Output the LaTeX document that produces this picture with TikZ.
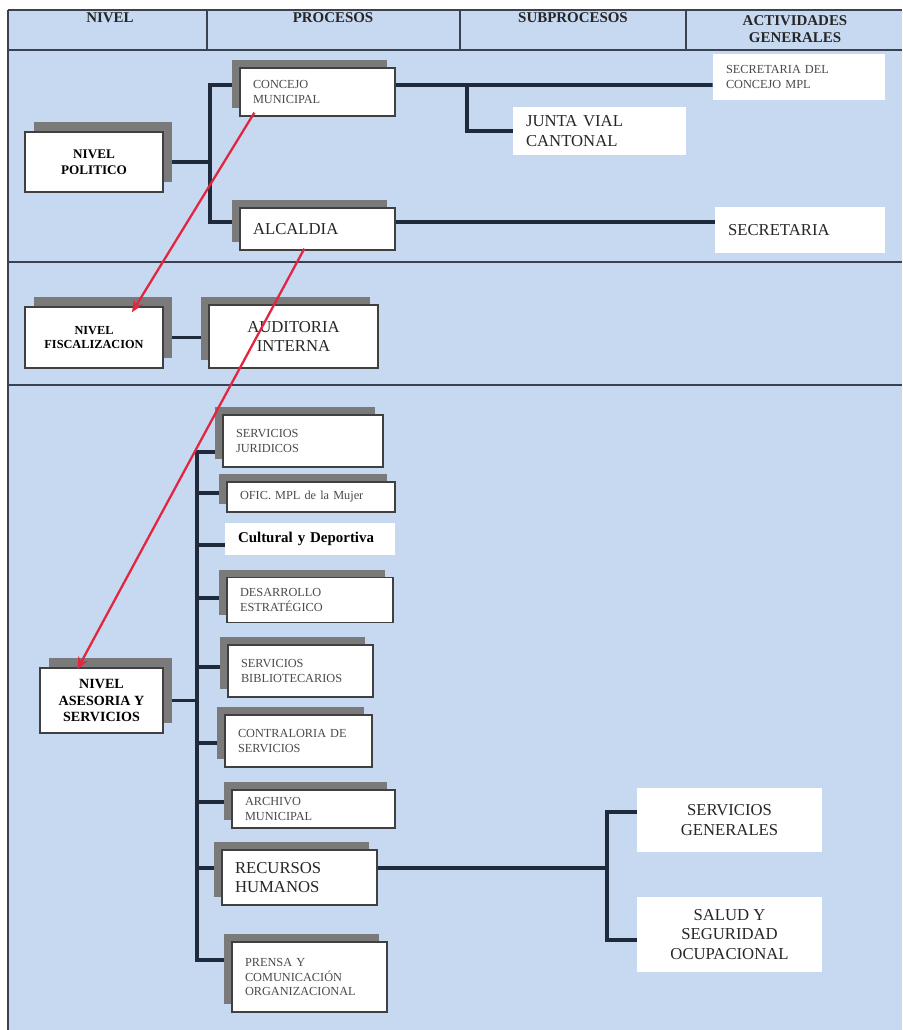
\documentclass[tikz,border=0pt]{standalone}
\usepackage{fontspec}
\setmainfont{Liberation Serif}
\usetikzlibrary{arrows.meta, positioning, calc, shadows}

\definecolor{fondo}{HTML}{C6D9F1}
\definecolor{raya}{HTML}{1F2A3C}
\definecolor{borde}{HTML}{3A4150}
\definecolor{sombra}{HTML}{7A7A7A}
\definecolor{rojo}{HTML}{E3263F}
\definecolor{letra}{HTML}{4A4A4A}

\pgfdeclarelayer{capafondo}
\pgfdeclarelayer{capalineas}
\pgfsetlayers{capafondo,capalineas,main}

\tikzset{
  caja/.style={draw=black!75, line width=0.8pt, fill=white, inner sep=2pt, align=center,
    drop shadow={shadow xshift=-0.16cm, shadow yshift=0.16cm, fill=sombra, opacity=1}},
  nivel/.style={draw=black!75, line width=0.8pt, fill=white, inner sep=2pt, align=center,
    font=\bfseries\fontsize{7.5}{9}\selectfont,
    drop shadow={shadow xshift=0.18cm, shadow yshift=0.2cm, fill=sombra, opacity=1}},
  hoja/.style={fill=white, inner sep=2pt, align=center},
  izq/.style={align=left, inner xsep=0.26cm},
  chica/.style={font=\fontsize{7}{8.5}\selectfont, text=letra},
  grande/.style={font=\fontsize{9.5}{11}\selectfont, text=black!85},
  cabeza/.style={font=\bfseries\fontsize{8.5}{9.5}\selectfont, inner sep=0pt, align=center, text=black!85},
  linea/.style={draw=raya, line width=2.1pt},
  flecha/.style={draw=rojo, line width=1.3pt, -{Stealth[length=7pt, width=6pt]}},
}

\begin{document}
\begin{tikzpicture}[x=0.02cm, y=-0.02cm]
\useasboundingbox (0,0) rectangle (902,1030);

% encabezado
\node[cabeza] (hnivel) at (110,18) {NIVEL};
\node[cabeza] (hproc) at (333,18) {PROCESOS};
\node[cabeza] (hsub) at (573,18) {SUBPROCESOS};
\node[cabeza] (hact) at (795,29) {ACTIVIDADES\\GENERALES};

% nivel politico
\node[nivel, minimum width=2.76cm, minimum height=1.2cm] (npol) at (94,162) {NIVEL\\POLITICO};
\node[caja, chica, izq, text width=2.58cm, minimum height=0.96cm] (concejo) at (317.5,92) {CONCEJO\\MUNICIPAL};
\node[caja, grande, izq, text width=2.58cm, minimum height=0.84cm] (alcaldia) at (317.5,229) {ALCALDIA};
\node[hoja, chica, izq, text width=2.92cm, minimum height=0.92cm] (secconcejo) at (799,77) {SECRETARIA DEL\\CONCEJO MPL};
\node[hoja, grande, izq, text width=2.94cm, minimum height=0.96cm] (junta) at (599.5,131) {JUNTA VIAL\\CANTONAL};
\node[hoja, grande, izq, text width=2.88cm, minimum height=0.92cm] (secret) at (800,230) {SECRETARIA};

% nivel fiscalizacion
\node[nivel, font=\bfseries\fontsize{7}{8.5}\selectfont, minimum width=2.76cm, minimum height=1.22cm] (nfisc) at (94,337.5) {NIVEL\\FISCALIZACION};
\node[caja, grande, minimum width=3.38cm, minimum height=1.26cm] (auditoria) at (293.5,336.5) {AUDITORIA\\INTERNA};

% nivel asesoria y servicios
\node[nivel, font=\bfseries\fontsize{8}{9.5}\selectfont, minimum width=2.46cm, minimum height=1.3cm] (nases) at (101.5,700.5) {NIVEL\\ASESORIA Y\\SERVICIOS};
\node[caja, chica, izq, text width=2.68cm, minimum height=1.04cm] (juridicos) at (303,441) {SERVICIOS\\JURIDICOS};
\node[caja, chica, izq, text width=2.84cm, minimum height=0.6cm] (mujer) at (311,497) {OFIC. MPL de la Mujer};
\node[hoja, izq, font=\bfseries\fontsize{8.5}{10}\selectfont, text width=2.88cm, minimum height=0.64cm] (cultural) at (310,539) {Cultural y Deportiva};
\node[caja, chica, izq, text width=2.8cm, minimum height=0.9cm] (desarrollo) at (310,600) {DESARROLLO\\ESTRATÉGICO};
\node[caja, chica, izq, text width=2.38cm, minimum height=1.04cm] (biblio) at (300.5,671) {SERVICIOS\\BIBLIOTECARIOS};
\node[caja, chica, izq, text width=2.42cm, minimum height=1.04cm] (contral) at (298.5,741) {CONTRALORIA DE\\SERVICIOS};
\node[caja, chica, izq, text width=2.74cm, minimum height=0.76cm] (archivo) at (313.5,809) {ARCHIVO\\MUNICIPAL};
\node[caja, grande, izq, text width=2.58cm, minimum height=1.1cm] (rrhh) at (299.5,877.5) {RECURSOS\\HUMANOS};
\node[caja, chica, izq, text width=2.58cm, minimum height=1.4cm] (prensa) at (309.5,977) {PRENSA Y\\COMUNICACIÓN\\ORGANIZACIONAL};
\node[hoja, grande, minimum width=3.7cm, minimum height=1.28cm] (sgen) at (729.5,820) {SERVICIOS\\GENERALES};
\node[hoja, grande, minimum width=3.7cm, minimum height=1.5cm] (salud) at (729.5,934.5) {SALUD Y\\SEGURIDAD\\OCUPACIONAL};

\begin{pgfonlayer}{capafondo}
\fill[fondo] (8,10) rectangle (902,1030);
\draw[borde, line width=1.1pt] (8,10) -- (902,10);
\draw[borde, line width=1.1pt] (8,50) -- (902,50);
\draw[borde, line width=1.1pt] (8,262) -- (902,262);
\draw[borde, line width=1.1pt] (8,385) -- (902,385);
\draw[borde, line width=1.1pt] (8,10) -- (8,1030);
\foreach \x in {207,460,686}
  \draw[borde, line width=1.1pt] (\x,10) -- (\x,50);
\end{pgfonlayer}

\begin{pgfonlayer}{capalineas}
\coordinate (bpol) at (210,162);
\coordinate (bjunta) at (467,85);
\coordinate (tronco) at (197,700.5);
\coordinate (brh) at (607,868);

\draw[linea] (npol.east) -- (bpol);
\draw[linea] (bpol) |- ([yshift=0.14cm]concejo.west);
\draw[linea] (bpol) |- ([yshift=0.14cm]alcaldia.west);
\draw[linea] ([yshift=0.14cm]concejo.east) -- (bjunta) -- (bjunta -| secconcejo.west);
\draw[linea] (bjunta) |- (junta.west);
\draw[linea] ([yshift=0.14cm]alcaldia.east) -- ([yshift=0.14cm]alcaldia.east -| secret.west);

\draw[linea] (nfisc.east) -- (nfisc.east -| auditoria.west);

\draw[linea] (nases.east) -- (tronco);
\foreach \n/\d in {juridicos/-0.22, mujer/0.08, cultural/-0.12, desarrollo/0.04, biblio/0.08, contral/-0.04, archivo/0.14, rrhh/0.19, prensa/0.34}
  \draw[linea] (tronco) |- ([yshift=\d cm]\n.west);

\draw[linea] ([yshift=0.19cm]rrhh.east) -- (brh);
\draw[linea] (brh) |- ([yshift=0.16cm]sgen.west);
\draw[linea] (brh) |- ([yshift=-0.11cm]salud.west);
\end{pgfonlayer}

% flechas rojas
\draw[flecha] ([xshift=0.3cm, yshift=0.08cm]concejo.south west) -- ([xshift=0.76cm, yshift=-0.12cm]nfisc.north);
\draw[flecha] ([xshift=1.3cm, yshift=0.04cm]alcaldia.south west) -- ([xshift=0.76cm, yshift=-0.04cm]nases.north west);
\end{tikzpicture}
\end{document}
